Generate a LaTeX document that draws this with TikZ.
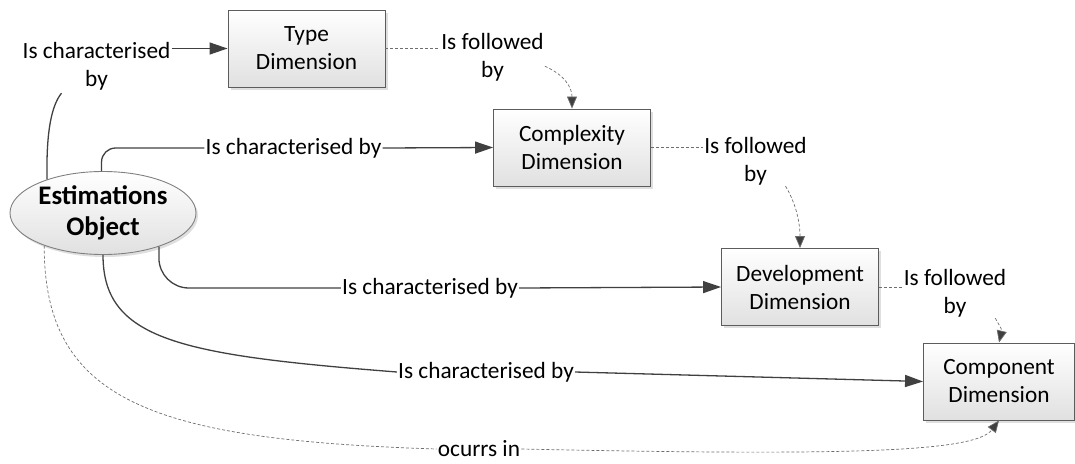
\documentclass[tikz,border=0pt]{standalone}
\usepackage{fontspec}
\setmainfont{Carlito}
\usetikzlibrary{arrows.meta,shapes.geometric,shadows,calc}
\definecolor{linkgray}{HTML}{404040}
\definecolor{boxgray}{HTML}{5C5C5C}
\definecolor{dashgray}{HTML}{6E6E6E}
\tikzstyle{dimension}=[rectangle, draw=boxgray, line width=0.9pt, top color=white, bottom color=black!12, drop shadow={shadow xshift=2.5pt, shadow yshift=-2.5pt, fill=black!25}, minimum width=157pt, minimum height=77pt, inner sep=0pt, align=center, font=\fontsize{23.3}{28}\selectfont]
\tikzstyle{object}=[ellipse, draw=black!50, line width=0.9pt, top color=white, bottom color=black!12, drop shadow={shadow xshift=2pt, shadow yshift=-2.5pt, fill=black!25}, minimum width=186pt, minimum height=83pt, inner sep=0pt, align=center, font=\bfseries\fontsize{26.8}{31}\selectfont]
\tikzstyle{relation}=[inner sep=1pt, align=center, font=\fontsize{23.3}{28}\selectfont]
\tikzstyle{link}=[draw=linkgray, line width=1.3pt]
\tikzstyle{linkto}=[link, -{Triangle[length=18pt, width=12pt]}]
\tikzstyle{follow}=[draw=dashgray, line width=0.7pt, dash pattern=on 3pt off 2pt]
\tikzstyle{followto}=[follow, -{Triangle[length=12pt, width=10pt, fill=linkgray]}]

\begin{document}
\begin{tikzpicture}[x=1pt, y=-1pt]
    \useasboundingbox (0,0) rectangle (1075,463);
    \node[object] (obj) at (103, 213) {Estimations\\Object};
    \node[dimension] (typ) at (306.5, 48.5) {Type\\Dimension};
    \node[dimension] (cpx) at (572, 147.5) {Complexity\\Dimension};
    \node[dimension] (dev) at (800, 287) {Development\\Dimension};
    \node[dimension, minimum width=151pt] (cmp) at (999, 381.5) {Component\\Dimension};
    \node[relation] (l1) at (96.5, 66) {Is characterised\\by};
    \node[relation] (l2) at (293.5, 148) {Is characterised by};
    \node[relation] (l3) at (430, 288) {Is characterised by};
    \node[relation] (l4) at (486, 372) {Is characterised by};
    \node[relation] (l5) at (479, 449) {ocurrs in};
    \node[relation] (f1) at (492.5, 57) {Is followed\\by};
    \node[relation] (f2) at (755.5, 161) {Is followed\\by};
    \node[relation] (f3) at (955, 293) {Is followed\\by};
    \draw[link]  (obj.149) .. controls (46, 130) and (52, 105) .. ($(l1.south)+(-35,2)$);
    \draw[linkto]  (l1.east |- typ.west) -- (typ.west);
    \draw[link, rounded corners=14pt]  (obj.92) |- (l2.west);
    \draw[linkto]  (l2.east) -- (cpx.west);
    \draw[link, rounded corners=30pt]  (obj.-31) |- (l3.west);
    \draw[linkto]  (l3.east) -- (dev.west);
    \draw[link]  (obj.south) .. controls (103, 340) and (180, 355) .. (l4.west);
    \draw[linkto]  (l4.east) -- (cmp.west);
    \draw[follow]  (typ.east) -- (f1.west |- typ.east);
    \draw[followto]  (f1.-10) .. controls (565, 75) and (572, 88) .. (cpx.north);
    \draw[follow]  (cpx.east) -- (f2.west |- cpx.east);
    \draw[followto]  (f2.-40) .. controls (797, 205) and (800, 225) .. (dev.north);
    \draw[follow]  (dev.east) -- (f3.west |- dev.east);
    \draw[followto]  (f3.-32) .. controls (1002, 330) .. (cmp.north);
    \draw[follow]  (obj.209) .. controls (44, 400) and (150, 440) .. (l5.west);
    \draw[followto]  (l5.east) .. controls (850, 456) and (975, 452) .. (cmp.south);
\end{tikzpicture}
\end{document}
